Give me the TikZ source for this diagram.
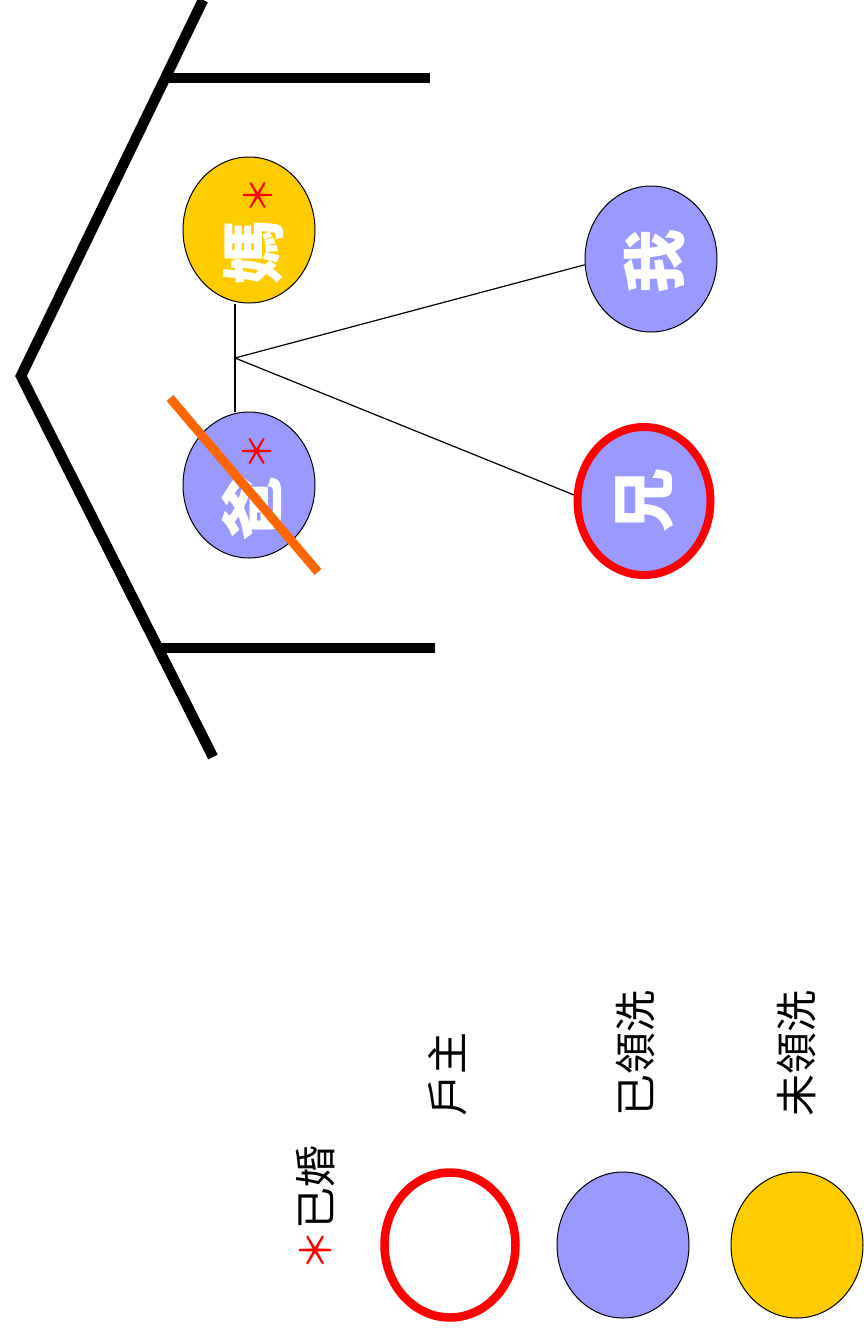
\documentclass[tikz,border=0pt]{standalone}
\usepackage{fontspec}
\newfontfamily\cjk{Noto Sans CJK TC}
\usetikzlibrary{shapes.geometric}
\definecolor{blueF}{HTML}{9999FF}
\definecolor{goldF}{HTML}{FFCC00}
\definecolor{redF}{HTML}{FF0000}
\definecolor{orangeF}{HTML}{FF6600}
\pgfdeclarelayer{bg}
\pgfsetlayers{bg,main}
\begin{document}
\begin{tikzpicture}[x=1pt,y=-1pt,
  person/.style={ellipse,draw=black,line width=1pt,minimum width=132pt,minimum height=146pt,inner sep=0pt},
  baptized/.style={person,fill=blueF},
  unbaptized/.style={person,fill=goldF},
  hhead/.style={draw=redF,line width=8pt,minimum width=133pt,minimum height=148pt},
  bigchar/.style={text=white,font=\fontsize{64}{68}\selectfont\cjk\bfseries,inner sep=0pt},
  mstar/.style={text=redF,font=\fontsize{38}{40}\selectfont\cjk,inner sep=0pt},
  legtext/.style={font=\fontsize{42}{46}\selectfont\cjk,inner sep=0pt,anchor=south},
  frame/.style={line width=10.5pt,line join=miter},
  conn/.style={line width=1.2pt}
]
\useasboundingbox (0,0) rectangle (863,1333);
\begin{pgfonlayer}{bg}
\fill[white] (0,0) rectangle (863,1333);
\end{pgfonlayer}

% frame
\coordinate (v) at (21,376);
\coordinate (t) at (203,0);
\coordinate (b) at (213,757);
\coordinate (tb) at (165,78);
\coordinate (bb) at (158,648);
\coordinate (te) at (430,78);
\coordinate (be) at (435,648);
\draw[frame] (t) -- (v) -- (b);
\draw[frame] (tb) -- (te);
\draw[frame] (bb) -- (be);

% persons
\node[unbaptized] (ma) at (249,230) {};
\node[baptized] (ba) at (249,485) {};
\node[baptized] (wo) at (651,259) {};
\node[baptized,hhead] (xiong) at (644,501) {};

\node[bigchar] (tma) at (254,252) {\rotatebox{90}{媽}};
\node[bigchar] (tba) at (252,508) {\rotatebox{90}{爸}};
\node[bigchar] (two) at (654,261) {\rotatebox{90}{我}};
\node[bigchar] (txiong) at (645,500) {\rotatebox{90}{兄}};

\node[mstar] (sma) at (258,195) {\rotatebox{90}{＊}};
\node[mstar] (sba) at (257,451) {\rotatebox{90}{＊}};

% connectors
\coordinate (j) at (235,358);
\draw[conn] (ma.south -| j) -- (ba.north -| j);
\draw[conn] (j) -- (wo.185);
\draw[conn] (j) -- (xiong.175);

% strike
\coordinate (s1) at (170,398);
\coordinate (s2) at (318,572);
\draw[orangeF,line width=9pt] (s1) -- (s2);

% legend
\node[ellipse,draw=redF,line width=8.5pt,fill=white,minimum width=131pt,minimum height=145pt,inner sep=0pt] (lhead) at (450,1245) {};
\node[baptized] (lbap) at (623,1245) {};
\node[unbaptized] (lunb) at (797,1245) {};

\node[legtext] (lmar) at (316,1272) {\rotatebox{90}{\textcolor{redF}{＊}已婚}};
\node[legtext] (lt1) at (448,1117) {\rotatebox{90}{戶主}};
\node[legtext] (lt2) at (635,1117) {\rotatebox{90}{已領洗}};
\node[legtext] (lt3) at (796,1117) {\rotatebox{90}{未領洗}};
\end{tikzpicture}
\end{document}
